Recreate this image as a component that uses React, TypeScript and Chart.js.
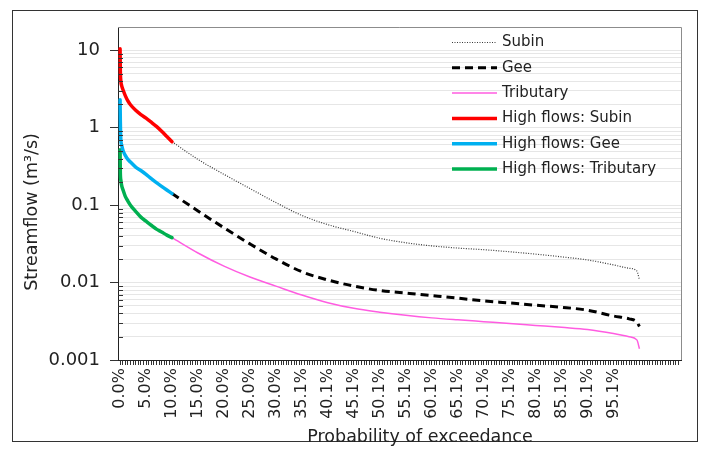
import React, { useEffect, useRef } from "react";
import { Chart, registerables } from "chart.js";

Chart.register(...registerables);

const FONT = '"DejaVu Sans", Verdana, sans-serif';

const xTickLabels = [
  "0.0%", "5.0%", "10.0%", "15.0%", "20.0%", "25.0%", "30.0%", "35.1%", "40.1%", "45.1%",
  "50.1%", "55.1%", "60.1%", "65.1%", "70.1%", "75.1%", "80.1%", "85.1%", "90.1%", "95.1%",
];
const yTickLabels = ["0.001", "0.01", "0.1", "1", "10"];
const seriesNames = [
  "Subin",
  "Gee",
  "Tributary",
  "High flows: Subin",
  "High flows: Gee",
  "High flows: Tributary",
];
const xTitle = "Probability of exceedance";
const yTitle = "Streamflow (m³/s)";

// probability of exceedance (%)
const highProb = [0, 0.05, 0.15, 0.3, 0.6, 1, 1.5, 2, 3, 4, 5, 6, 7, 8, 9, 10];
const lowProb = [10, 15, 20, 25, 30, 35, 40, 45, 50, 55, 60, 65, 70, 75, 80, 85, 90, 95, 98, 99.5, 100];

// streamflow (m3/s)
const subinHigh = [10.5, 5.5, 4.0, 3.5, 3.05, 2.6, 2.22, 1.98, 1.68, 1.48, 1.33, 1.18, 1.04, 0.9, 0.77, 0.66];
const geeHigh = [2.3, 1.2, 0.69, 0.6, 0.5, 0.44, 0.39, 0.36, 0.31, 0.28, 0.25, 0.22, 0.195, 0.175, 0.157, 0.141];
const tribHigh = [0.52, 0.26, 0.21, 0.18, 0.155, 0.13, 0.113, 0.1, 0.083, 0.07, 0.062, 0.055, 0.049, 0.045, 0.041, 0.038];

const subinLow = [0.66, 0.39, 0.25, 0.164, 0.108, 0.0736, 0.056, 0.0457, 0.0374, 0.0327, 0.0298, 0.0279, 0.0266, 0.025, 0.0233, 0.0215, 0.0196, 0.0169, 0.0153, 0.0141, 0.0108];
const geeLow = [0.141, 0.084, 0.051, 0.0316, 0.0202, 0.0138, 0.0108, 0.009, 0.0079, 0.00733, 0.0068, 0.0063, 0.0058, 0.00545, 0.0051, 0.0048, 0.0044, 0.0037, 0.0034, 0.0031, 0.0027];
const tribLow = [0.038, 0.0241, 0.0163, 0.0118, 0.009, 0.0069, 0.0055, 0.00465, 0.00415, 0.00378, 0.0035, 0.0033, 0.00313, 0.00297, 0.0028, 0.00264, 0.00248, 0.0022, 0.002, 0.00182, 0.0014];

const toPoints = (probs: number[], vals: number[]) => probs.map((p, i) => ({ x: p, y: vals[i] }));

const isDecade = (v: number) => {
  if (!v || v <= 0) return false;
  const l = Math.log10(v);
  return Math.abs(l - Math.round(l)) < 1e-9;
};

export default function App() {
  const ref = useRef<HTMLCanvasElement>(null);

  useEffect(() => {
    const canvas = ref.current;
    if (!canvas) return;

    const styles = [
      { color: "#3a3a3a", width: 1.2, dash: [1, 1.5] },
      { color: "#000000", width: 3, dash: [8, 5] },
      { color: "#ff5ce1", width: 1.5, dash: [] as number[] },
      { color: "#ff0000", width: 3.5, dash: [] as number[] },
      { color: "#00b0f0", width: 3.5, dash: [] as number[] },
      { color: "#00b050", width: 3.5, dash: [] as number[] },
    ];
    const seriesData = [
      toPoints(lowProb, subinLow),
      toPoints(lowProb, geeLow),
      toPoints(lowProb, tribLow),
      toPoints(highProb, subinHigh),
      toPoints(highProb, geeHigh),
      toPoints(highProb, tribHigh),
    ];
    const datasets = seriesNames.map((name, i) => ({
      label: name,
      data: seriesData[i],
      borderColor: styles[i].color,
      backgroundColor: styles[i].color,
      borderWidth: styles[i].width,
      borderDash: styles[i].dash,
      pointRadius: 0,
      fill: false,
      cubicInterpolationMode: "monotone" as const,
      order: i < 3 ? 1 : 0,
      borderCapStyle: (i < 3 ? "butt" : "round") as CanvasLineCap,
      borderJoinStyle: "round" as CanvasLineJoin,
    }));

    const decor = {
      id: "decor",
      afterDraw(chart: any) {
        const { ctx, chartArea: a, scales } = chart;
        const ys = scales.y;
        ctx.save();
        // inner minor ticks on y axis
        ctx.strokeStyle = "#333";
        ctx.lineWidth = 1;
        ctx.setLineDash([]);
        ys.ticks.forEach((t: any) => {
          if (!isDecade(t.value) && t.value < 20) {
            const y = Math.round(ys.getPixelForValue(t.value)) + 0.5;
            ctx.beginPath();
            ctx.moveTo(a.left, y);
            ctx.lineTo(a.left + 5, y);
            ctx.stroke();
          }
        });
        // plot top & right border
        ctx.strokeStyle = "#8c8c8c";
        ctx.beginPath();
        ctx.moveTo(a.left, Math.round(a.top) + 0.5);
        ctx.lineTo(Math.round(a.right) + 0.5, Math.round(a.top) + 0.5);
        ctx.lineTo(Math.round(a.right) + 0.5, a.bottom);
        ctx.stroke();
        // outer frame
        ctx.strokeStyle = "#333";
        ctx.strokeRect(12.5, 10.5, 685, 431);
        // axis titles
        ctx.fillStyle = "#222";
        ctx.font = `17.5px ${FONT}`;
        ctx.textAlign = "center";
        ctx.textBaseline = "middle";
        ctx.fillText(xTitle, 420, 437);
        ctx.save();
        ctx.translate(32, 212);
        ctx.rotate(-Math.PI / 2);
        ctx.fillText(yTitle, 0, 0);
        ctx.restore();
        // legend
        ctx.font = `15px ${FONT}`;
        ctx.textAlign = "left";
        chart.data.datasets.forEach((ds: any, i: number) => {
          const y = 42.5 + i * 25.3;
          ctx.strokeStyle = ds.borderColor;
          ctx.lineWidth = ds.borderWidth;
          ctx.setLineDash(ds.borderDash || []);
          ctx.lineCap = "butt";
          ctx.beginPath();
          ctx.moveTo(452, y);
          ctx.lineTo(497, y);
          ctx.stroke();
          ctx.setLineDash([]);
          ctx.fillStyle = "#222";
          ctx.fillText(ds.label, 502, y);
        });
        ctx.restore();
      },
    };

    const chart = new Chart(canvas, {
      type: "line",
      data: { datasets: datasets as any },
      options: {
        animation: false,
        responsive: false,
        devicePixelRatio: 1,
        layout: { padding: { left: 0, top: 27, right: 21, bottom: 0 } },
        plugins: { legend: { display: false }, tooltip: { enabled: false } },
        scales: {
          x: {
            type: "linear",
            min: -0.4,
            max: 108,
            afterBuildTicks: (scale: any) => {
              const t: any[] = [];
              for (let k = 0; k * 0.5 <= 107.6; k++) t.push({ value: k * 0.5 });
              scale.ticks = t;
            },
            afterFit: (scale: any) => {
              scale.height = 91;
            },
            ticks: {
              autoSkip: false,
              minRotation: 90,
              maxRotation: 90,
              padding: 3,
              color: "#222",
              font: { family: FONT, size: 16 },
              callback: (_v: any, i: number) => (i % 10 === 0 ? xTickLabels[i / 10] ?? "" : ""),
            },
            grid: {
              drawOnChartArea: false,
              drawTicks: true,
              tickLength: 5,
              tickColor: "#333",
              tickWidth: 1,
            },
            border: { display: true, color: "#222", width: 1 },
          },
          y: {
            type: "logarithmic",
            min: 0.001,
            max: 20,
            afterBuildTicks: (scale: any) => {
              const t: any[] = [];
              for (let e = -3; e <= 1; e++) {
                for (let m = 1; m <= 9; m++) {
                  const v = parseFloat((m * Math.pow(10, e)).toPrecision(6));
                  if (v <= 20) t.push({ value: v });
                }
              }
              t.push({ value: 20 });
              scale.ticks = t;
            },
            afterFit: (scale: any) => {
              scale.width = 118;
            },
            ticks: {
              autoSkip: false,
              padding: 10,
              color: "#222",
              font: { family: FONT, size: 18 },
              callback: (v: any) =>
                isDecade(Number(v)) ? yTickLabels[Math.round(Math.log10(Number(v))) + 3] ?? "" : "",
            },
            grid: {
              color: "#e6e6e6",
              lineWidth: 1,
              drawTicks: true,
              tickLength: 8,
              tickColor: (c: any) => (c.tick && isDecade(c.tick.value) ? "#333" : "rgba(0,0,0,0)"),
            },
            border: { display: true, color: "#222", width: 1 },
          },
        },
      },
      plugins: [decor],
    });

    return () => chart.destroy();
  }, []);

  return (
    <div style={{ position: "absolute", left: 0, top: 0, width: 702, height: 451, background: "#fff" }}>
      <canvas ref={ref} width={702} height={451} style={{ width: 702, height: 451, display: "block" }} />
    </div>
  );
}
